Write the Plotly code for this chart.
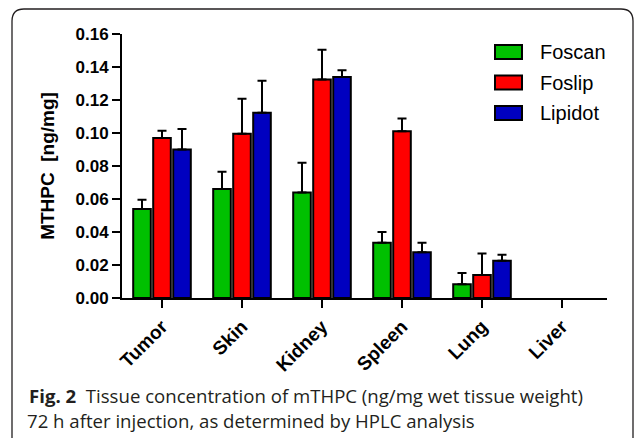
import plotly.graph_objects as go

categories = ["Tumor", "Skin", "Kidney", "Spleen", "Lung", "Liver"]
series_names = ["Foscan", "Foslip", "Lipidot"]
foscan = [0.054, 0.066, 0.064, 0.0335, 0.0083, None]
foscan_err = [0.0055, 0.0105, 0.018, 0.0065, 0.0069, None]
foslip = [0.097, 0.0995, 0.1325, 0.101, 0.014, None]
foslip_err = [0.0043, 0.0213, 0.018, 0.0078, 0.013, None]
lipidot = [0.090, 0.1123, 0.134, 0.0277, 0.0226, None]
lipidot_err = [0.0125, 0.0194, 0.004, 0.0058, 0.0036, None]
y_ticks = [0.00, 0.02, 0.04, 0.06, 0.08, 0.10, 0.12, 0.14, 0.16]
colors = ["#00C000", "#FF0000", "#0000C0"]
y_title = "MTHPC  [ng/mg]"
caption_bold = "Fig. 2"
caption_line1 = "  Tissue concentration of mTHPC (ng/mg wet tissue weight)"
caption_line2 = "72 h after injection, as determined by HPLC analysis"

W, H = 636, 438
L, R, T, B = 122, 29, 34, 140
PW, PH = W - L - R, H - T - B


def px(x):
    return (x - L) / PW


def py(y):
    return (H - B - y) / PH


fig = go.Figure()
for name, vals, errs, col in zip(series_names, [foscan, foslip, lipidot],
                                 [foscan_err, foslip_err, lipidot_err], colors):
    fig.add_trace(go.Bar(
        x=categories, y=vals, name=name,
        marker=dict(color=col, line=dict(color="black", width=2)),
        error_y=dict(type="data", array=errs, arrayminus=[0] * len(errs),
                     symmetric=False, color="black", thickness=2, width=4.5),
        showlegend=False,
    ))

fig.update_layout(
    width=W, height=H,
    margin=dict(l=L, r=R, t=T, b=B, pad=0),
    paper_bgcolor="white", plot_bgcolor="white",
    barmode="group", bargap=0.25, bargroupgap=0.12,
    xaxis=dict(range=[-0.5, 5.5625], showline=True, linecolor="black", linewidth=2,
               ticks="outside", ticklen=8, tickwidth=2, tickcolor="black",
               tickangle=-45, showgrid=False, zeroline=False,
               tickfont=dict(family="Liberation Sans, Arial, sans-serif", size=19, color="black", weight="bold")),
    yaxis=dict(range=[0, 0.16], tickvals=y_ticks, tickformat=".2f",
               showline=True, linecolor="black", linewidth=2,
               ticks="outside", ticklen=8, tickwidth=2, tickcolor="black",
               showgrid=False, zeroline=False,
               tickfont=dict(family="Liberation Sans, Arial, sans-serif", size=17, color="black", weight="bold"),
               title=dict(text=y_title, standoff=16,
                          font=dict(family="Liberation Sans, Arial, sans-serif", size=19, color="black", weight="bold"))),
)

# custom legend (wide boxes like the original)
shapes = []
annotations = []
for i, (name, col) in enumerate(zip(series_names, colors)):
    yc = 52 + i * 30.5
    shapes.append(dict(type="rect", xref="paper", yref="paper",
                       x0=px(495), x1=px(522), y0=py(yc - 7), y1=py(yc + 7),
                       fillcolor=col, line=dict(color="black", width=2)))
    annotations.append(dict(xref="paper", yref="paper", x=px(538), y=py(yc),
                            xanchor="left", yanchor="middle", showarrow=False,
                            text=name,
                            font=dict(family="Liberation Sans, Arial, sans-serif", size=20, color="black")))

# rounded frame
rx, ry = 12 / PW, 12 / PH
x0, x1, yt, yb = px(12), px(633), py(9), py(460)
path = (f"M {x0},{yb} L {x0},{yt - ry} Q {x0},{yt} {x0 + rx},{yt} "
        f"L {x1 - rx},{yt} Q {x1},{yt} {x1},{yt - ry} L {x1},{yb}")
shapes.append(dict(type="path", xref="paper", yref="paper", path=path,
                   line=dict(color="#231f20", width=1.3)))

cap_font = dict(family="Open Sans, Noto Sans, sans-serif", size=18.6, color="#231f20")
annotations.append(dict(xref="paper", yref="paper", x=px(27), y=py(395),
                        xanchor="left", yanchor="middle", showarrow=False,
                        text=f"<b>{caption_bold}</b>{caption_line1}", font=cap_font))
annotations.append(dict(xref="paper", yref="paper", x=px(25), y=py(420),
                        xanchor="left", yanchor="middle", showarrow=False,
                        text=caption_line2, font=cap_font))

fig.update_layout(shapes=shapes, annotations=annotations)
fig.write_html("out.html", config={"displayModeBar": False},
               post_script="document.body.style.margin='0';document.body.style.padding='0';")
